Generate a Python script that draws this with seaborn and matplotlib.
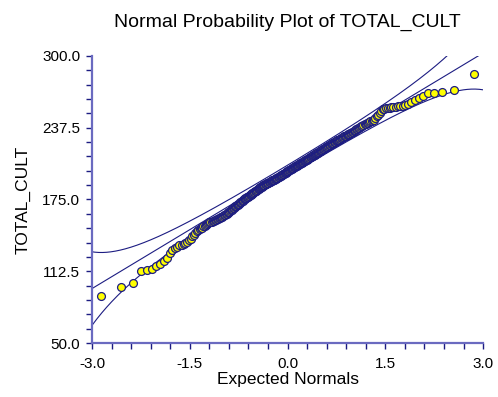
import numpy as np
import pandas as pd
import matplotlib
matplotlib.use("Agg")
import matplotlib.pyplot as plt
import seaborn as sns
from statistics import NormalDist

# Sorted TOTAL_CULT values (n = 300)
total_cult = [
    91.0, 98.8, 102.3, 112.5, 114.0, 114.8, 116.8, 118.5, 121.0, 124.4,
    128.0, 131.0, 132.5, 134.0, 135.0, 135.7, 136.3, 137.0, 138.0, 139.5,
    141.0, 143.0, 144.5, 146.0, 147.5, 148.3, 149.0, 149.8, 150.6, 151.5,
    152.2, 153.0, 153.7, 154.4, 155.0, 155.4, 155.8, 156.3, 156.7, 157.1,
    157.5, 157.9, 158.3, 158.7, 159.0, 159.4, 159.7, 160.0, 160.5, 161.1,
    161.6, 162.2, 162.7, 163.3, 163.8, 164.3, 164.9, 165.5, 166.1, 166.7,
    167.3, 167.9, 168.5, 169.0, 169.5, 170.0, 170.5, 171.0, 171.5, 172.0,
    172.5, 173.0, 173.5, 174.0, 174.5, 175.0, 175.5, 176.0, 176.4, 176.8,
    177.2, 177.6, 178.0, 178.4, 178.8, 179.2, 179.6, 180.0, 180.4, 180.8,
    181.2, 181.6, 182.0, 182.4, 182.8, 183.2, 183.6, 184.0, 184.4, 184.8,
    185.2, 185.6, 186.0, 186.3, 186.6, 186.9, 187.2, 187.5, 187.8, 188.1,
    188.4, 188.7, 189.0, 189.3, 189.5, 189.8, 190.0, 190.3, 190.6, 190.9,
    191.2, 191.5, 191.7, 191.9, 192.1, 192.3, 192.5, 192.8, 193.1, 193.4,
    193.7, 194.0, 194.3, 194.6, 194.9, 195.2, 195.5, 195.8, 196.1, 196.4,
    196.7, 197.0, 197.3, 197.6, 197.9, 198.2, 198.5, 198.8, 199.1, 199.4,
    199.7, 200.0, 200.3, 200.6, 200.9, 201.2, 201.5, 201.8, 202.1, 202.4,
    202.7, 203.0, 203.3, 203.6, 203.9, 204.2, 204.5, 204.8, 205.0, 205.3,
    205.6, 205.9, 206.2, 206.5, 206.8, 207.1, 207.4, 207.7, 208.0, 208.3,
    208.6, 208.9, 209.2, 209.5, 209.8, 210.1, 210.4, 210.7, 211.0, 211.3,
    211.6, 211.9, 212.2, 212.5, 212.8, 213.1, 213.4, 213.7, 214.1, 214.4,
    214.8, 215.1, 215.5, 215.8, 216.2, 216.5, 216.9, 217.2, 217.6, 217.9,
    218.3, 218.6, 219.0, 219.3, 219.7, 220.0, 220.3, 220.6, 221.0, 221.4,
    221.7, 222.1, 222.5, 222.8, 223.2, 223.6, 223.9, 224.3, 224.7, 225.0,
    225.4, 225.8, 226.1, 226.5, 226.8, 227.2, 227.5, 227.9, 228.3, 228.7,
    229.1, 229.5, 229.9, 230.3, 230.7, 231.1, 231.5, 231.9, 232.3, 232.7,
    233.1, 233.5, 233.9, 234.4, 235.0, 235.5, 236.1, 236.6, 237.2, 237.7,
    238.3, 238.8, 239.4, 239.9, 240.5, 241.0, 241.5, 242.0, 242.6, 243.1,
    243.6, 244.1, 244.6, 246.0, 247.5, 249.0, 250.5, 252.2, 253.8, 254.2,
    254.5, 254.8, 255.1, 255.4, 255.7, 255.9, 256.1, 256.3, 256.5, 257.0,
    258.5, 260.0, 261.5, 263.5, 265.0, 267.5, 268.0, 269.0, 270.0, 284.0,
]

# Reference line: intercept and slope
line_mean = 200.0
line_sd = 34.2

x_ticks = [-3.0, -1.5, 0.0, 1.5, 3.0]
x_tick_labels = ["-3.0", "-1.5", "0.0", "1.5", "3.0"]
y_ticks = [50.0, 112.5, 175.0, 237.5, 300.0]
y_tick_labels = ["50.0", "112.5", "175.0", "237.5", "300.0"]

nd = NormalDist()
n = len(total_cult)
expected = [nd.inv_cdf((i - 0.375) / (n + 0.25)) for i in range(1, n + 1)]
df = pd.DataFrame({"Expected Normals": expected, "TOTAL_CULT": total_cult})

z = np.linspace(-3.0, 3.0, 400)
p = np.array([nd.cdf(v) for v in z])
dens = np.array([nd.pdf(v) for v in z])
fit = line_mean + line_sd * z
half = 1.96 * line_sd * np.sqrt(p * (1 - p) / n) / dens
bands = pd.DataFrame({"z": z, "fit": fit, "upper": fit + half, "lower": fit - half})

sns.set_theme(style="white")
plt.rcParams["font.family"] = ["Liberation Sans", "DejaVu Sans"]

navy = "#1c1c82"
fig = plt.figure(figsize=(4.98, 3.97), dpi=100)
ax = fig.add_axes([0.1847, 0.136, 0.7853, 0.723])

for col in ["fit", "upper", "lower"]:
    sns.lineplot(data=bands, x="z", y=col, ax=ax, color=navy, linewidth=0.8,
                 estimator=None, sort=False, zorder=2)
sns.scatterplot(data=df, x="Expected Normals", y="TOTAL_CULT", ax=ax,
                color="#ffff00", edgecolor=navy, linewidth=0.9, s=32, zorder=3)

ax.set_xlim(-3.0, 3.0)
ax.set_ylim(50.0, 300.0)
ax.set_xticks(x_ticks)
ax.set_xticklabels(x_tick_labels)
ax.set_yticks(y_ticks)
ax.set_yticklabels(y_tick_labels)
ax.set_xticks(np.arange(-3.0, 3.01, 0.3), minor=True)
ax.set_yticks(np.arange(50.0, 300.1, 12.5), minor=True)
ax.tick_params(which="both", direction="out", length=4.5, width=1.0,
               color=navy, labelsize=11, labelcolor="black",
               bottom=True, left=True)
ax.tick_params(axis="y", which="both", pad=4)
ax.tick_params(axis="x", which="both", pad=5.5)
sns.despine(ax=ax)
for side in ["left", "bottom"]:
    ax.spines[side].set_color("#6a6ac0")
    ax.spines[side].set_linewidth(1.6)
ax.set_xlabel("Expected Normals", fontsize=12.5, color="black", labelpad=1)
ax.set_ylabel("TOTAL_CULT", fontsize=12.5, color="black", labelpad=8)
ax.set_title("Normal Probability Plot of TOTAL_CULT", fontsize=14,
             color="black", pad=21)
ax.grid(False)

fig.savefig("out.png", dpi=100)
